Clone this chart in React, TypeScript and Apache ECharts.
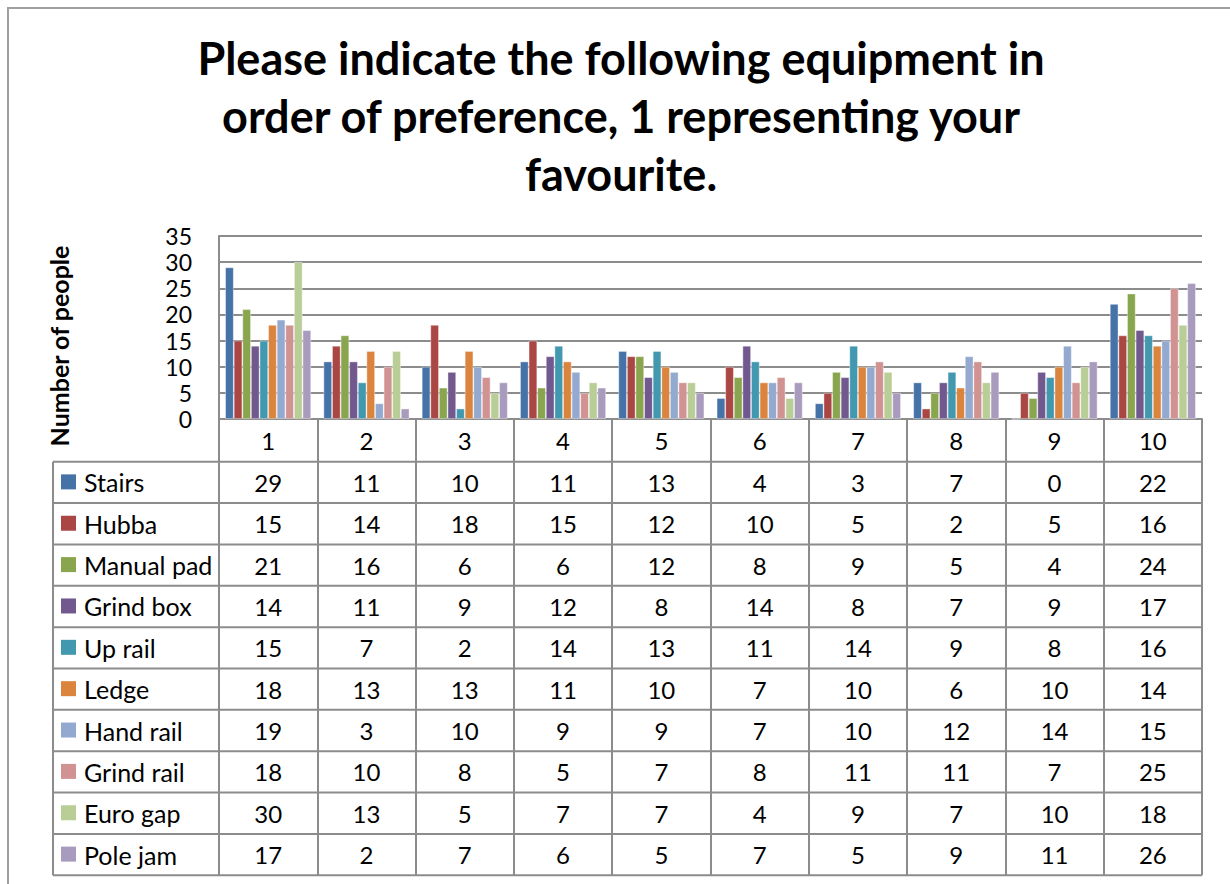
import React, { useEffect, useRef } from "react";
import * as echarts from "echarts";

const categories = ["1", "2", "3", "4", "5", "6", "7", "8", "9", "10"];
const seriesNames = ["Stairs", "Hubba", "Manual pad", "Grind box", "Up rail", "Ledge", "Hand rail", "Grind rail", "Euro gap", "Pole jam"];
const stairs = [29, 11, 10, 11, 13, 4, 3, 7, 0, 22];
const hubba = [15, 14, 18, 15, 12, 10, 5, 2, 5, 16];
const manualPad = [21, 16, 6, 6, 12, 8, 9, 5, 4, 24];
const grindBox = [14, 11, 9, 12, 8, 14, 8, 7, 9, 17];
const upRail = [15, 7, 2, 14, 13, 11, 14, 9, 8, 16];
const ledge = [18, 13, 13, 11, 10, 7, 10, 6, 10, 14];
const handRail = [19, 3, 10, 9, 9, 7, 10, 12, 14, 15];
const grindRail = [18, 10, 8, 5, 7, 8, 11, 11, 7, 25];
const euroGap = [30, 13, 5, 7, 7, 4, 9, 7, 10, 18];
const poleJam = [17, 2, 7, 6, 5, 7, 5, 9, 11, 26];
const seriesValues = [stairs, hubba, manualPad, grindBox, upRail, ledge, handRail, grindRail, euroGap, poleJam];
const colors = ["#4572A7", "#AA4643", "#89A54E", "#71588F", "#4198AF", "#DB843D", "#93A9CF", "#D19392", "#B9CD96", "#A99BBD"];
const yTicks = { min: 0, max: 35, interval: 5 };
const titleText = "Please indicate the following equipment in\norder of preference, 1 representing your\nfavourite.";
const yAxisTitle = "Number of people";

const FONT = "Lato, 'Noto Sans', sans-serif";
const GRID_COLOR = "#8C8C8C";

export default function App() {
  const ref = useRef<HTMLDivElement>(null);
  useEffect(() => {
    document.body.style.margin = "0";
    const el = ref.current!;
    const chart = echarts.init(el, null, { renderer: "svg" });
    const gridLeft = 219;
    const gridRight = 1202;
    const gridTop = 236;
    const gridBottom = 419;
    const headerH = 42.7;
    const rowH = 41.36;
    const tableLeft = 53;
    const tableBottom = gridBottom + headerH + rowH * seriesNames.length;

    chart.setOption({
      animation: false,
      backgroundColor: "#ffffff",
      textStyle: { fontFamily: FONT },
      title: {
        text: titleText,
        left: 616,
        top: 24,
        textAlign: "center",
        textStyle: { fontFamily: FONT, fontWeight: "bold", fontSize: 45, lineHeight: 58, color: "#000" },
      },
      grid: { left: gridLeft, top: gridTop, width: gridRight - gridLeft, height: gridBottom - gridTop, containLabel: false },
      xAxis: {
        type: "category",
        data: categories,
        axisLine: { show: true, lineStyle: { color: GRID_COLOR, width: 2 } },
        axisTick: { show: true, length: tableBottom - gridBottom, lineStyle: { color: GRID_COLOR, width: 2 } },
        axisLabel: { fontSize: 24, color: "#000", margin: 9, fontFamily: FONT },
      },
      yAxis: {
        type: "value",
        min: yTicks.min,
        max: yTicks.max,
        interval: yTicks.interval,
        axisLine: { show: true, lineStyle: { color: GRID_COLOR, width: 2 } },
        axisTick: { show: false },
        axisLabel: { fontSize: 23, lineHeight: 22, color: "#000", margin: 27, fontFamily: FONT },
        splitLine: { show: true, lineStyle: { color: GRID_COLOR, width: 2 } },
      },
      series: seriesNames.map((name, i) => ({
        name,
        type: "bar",
        data: seriesValues[i],
        barGap: "0%",
        barCategoryGap: "12.5%",
        itemStyle: { color: colors[i], borderColor: "rgba(255,255,255,0.5)", borderWidth: 0.8 },
      })),
    });

    const yZero = chart.convertToPixel({ yAxisIndex: 0 }, 0) as number;
    const graphics: any[] = [];
    // outer frame
    graphics.push({
      type: "polyline",
      shape: { points: [[8, 884], [8, 8], [1230, 8]] },
      style: { stroke: "#A0A0A0", lineWidth: 2, fill: "none" },
    });
    // y axis title
    graphics.push({
      type: "text",
      x: 59,
      y: 346,
      rotation: Math.PI / 2,
      style: { text: yAxisTitle, fontSize: 25, fontWeight: "bold", fontFamily: FONT, fill: "#000", align: "center", verticalAlign: "middle" },
    });
    const tableTop = yZero + headerH;
    for (let r = 0; r <= seriesNames.length; r++) {
      const y = tableTop + r * rowH;
      graphics.push({
        type: "line",
        shape: { x1: tableLeft, y1: y, x2: gridRight, y2: y },
        style: { stroke: GRID_COLOR, lineWidth: 2 },
      });
    }
    graphics.push({
      type: "line",
      shape: { x1: tableLeft, y1: tableTop, x2: tableLeft, y2: tableBottom },
      style: { stroke: GRID_COLOR, lineWidth: 2 },
    });
    seriesNames.forEach((name, r) => {
      const cy = tableTop + r * rowH + rowH / 2;
      graphics.push({
        type: "rect",
        shape: { x: 61, y: cy - 8, width: 15, height: 15 },
        style: { fill: colors[r] },
      });
      graphics.push({
        type: "text",
        x: 84,
        y: cy,
        style: { text: name, fontSize: 25, fontFamily: FONT, fill: "#000", verticalAlign: "middle", align: "left" },
      });
      categories.forEach((c, ci) => {
        const cx = chart.convertToPixel({ xAxisIndex: 0 }, c) as number;
        graphics.push({
          type: "text",
          x: cx,
          y: cy,
          style: { text: String(seriesValues[r][ci]), fontSize: 24, fontFamily: FONT, fill: "#000", verticalAlign: "middle", align: "center" },
        });
      });
    });
    chart.setOption({ graphic: graphics });

    return () => chart.dispose();
  }, []);
  return <div ref={ref} style={{ width: 1230, height: 884 }} />;
}
